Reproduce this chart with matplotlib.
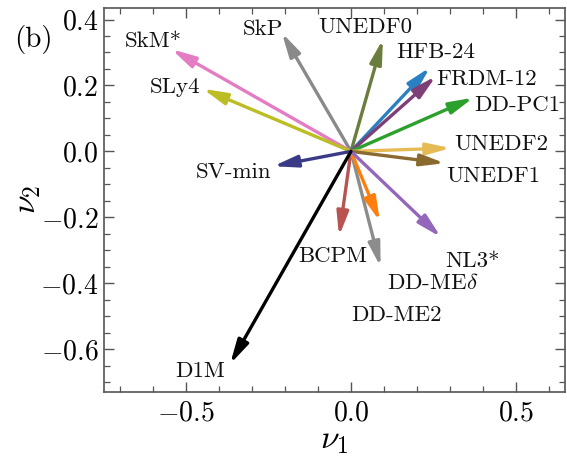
import matplotlib
matplotlib.use("Agg")
import matplotlib.pyplot as plt
from matplotlib.ticker import MultipleLocator

plt.rcParams['mathtext.fontset'] = 'cm'
plt.rcParams['font.family'] = ['cmr10', 'DejaVu Serif']
plt.rcParams['axes.formatter.use_mathtext'] = True
plt.rcParams['axes.unicode_minus'] = True

# Model names and the (nu1, nu2) tip of each vector
models = ["SkP", "SkM*", "SLy4", "SV-min", "UNEDF0", "HFB-24", "FRDM-12",
          "DD-PC1", "UNEDF2", "UNEDF1", "BCPM", "DD-ME2", "DD-ME$\\delta$",
          "NL3*", "D1M"]
nu1 = [-0.21, -0.545, -0.45, -0.236, 0.097, 0.24, 0.258, 0.372, 0.303,
       0.285, -0.036, 0.09, 0.088, 0.273, -0.367]
nu2 = [0.36, 0.31, 0.19, -0.045, 0.34, 0.255, 0.228, 0.163, 0.01,
       -0.036, -0.257, -0.35, -0.212, -0.26, -0.645]
colors = ["#8a8a8a", "#e47cc4", "#bcbd22", "#3a3a86", "#6b7d3c", "#2a80c2",
          "#7d3f76", "#2ca02c", "#e6bb55", "#8a6a2e", "#b8534f", "#8c8c8c",
          "#ff7f0e", "#9467bd", "#000000"]
# label positions (data coords)
label_x = [-0.267, -0.60, -0.533, -0.357, 0.042, 0.258, 0.412, 0.506, 0.455,
           0.433, -0.055, 0.139, 0.248, 0.37, -0.458]
label_y = [0.372, 0.333, 0.194, -0.064, 0.376, 0.30, 0.218, 0.139, 0.021,
           -0.076, -0.318, -0.497, -0.40, -0.333, -0.667]

fig = plt.figure(figsize=(5.67, 4.59), dpi=100)
ax = fig.add_axes([104/567, 1-392/459, (565-104)/567, (392-8)/459])

for i in range(len(models)):
    ax.annotate("", xy=(nu1[i], nu2[i]), xytext=(0, 0),
                arrowprops=dict(arrowstyle="-|>,head_length=0.65,head_width=0.16",
                                color=colors[i], lw=2.4, shrinkA=0, shrinkB=0,
                                mutation_scale=22),
                zorder=3 if models[i] != "D1M" else 4)
    ax.text(label_x[i], label_y[i], models[i], ha="center", va="center",
            fontsize=16.5, color="#111111")

ax.set_xlim(-0.75, 0.65)
ax.set_ylim(-0.73, 0.435)
ax.xaxis.set_major_locator(MultipleLocator(0.5))
ax.xaxis.set_minor_locator(MultipleLocator(0.1))
ax.yaxis.set_major_locator(MultipleLocator(0.2))
ax.yaxis.set_minor_locator(MultipleLocator(0.05))
ax.tick_params(which="both", direction="in", top=True, right=True,
               color="#555555", labelsize=20)
ax.tick_params(axis="y", pad=4)
ax.tick_params(axis="x", pad=6)
ax.tick_params(which="major", length=7, width=1.0)
ax.tick_params(which="minor", length=4, width=0.9)
for s in ax.spines.values():
    s.set_color("#555555")
    s.set_linewidth(1.2)

ax.set_xlabel(r"$\nu_1$", fontsize=24, labelpad=0)
ax.set_ylabel(r"$\nu_2$", fontsize=24, labelpad=-2)
fig.text(33/567, 1-40/459, "(b)", fontsize=21, ha="center", va="center")

fig.savefig("out.png", dpi=100)
